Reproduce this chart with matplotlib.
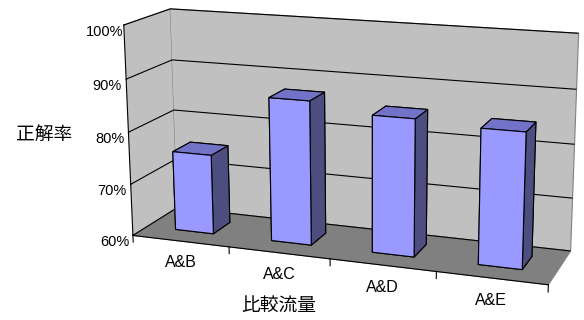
import matplotlib
matplotlib.use('Agg')
import matplotlib.pyplot as plt
import numpy as np
from matplotlib.ticker import FuncFormatter

categories = ['A&B', 'A&C', 'A&D', 'A&E']
accuracy = [0.753, 0.872, 0.855, 0.848]
value_ticks = [0.6, 0.7, 0.8, 0.9, 1.0]
x_title = '比較流量'
y_title = '正解率'

plt.rcParams['font.family'] = ['Liberation Sans', 'Noto Sans CJK JP']
plt.rcParams['font.size'] = 10.5
W, H = 584, 320
n = len(categories)

fig = plt.figure(figsize=(W / 100, H / 100), dpi=100)
# square 3D axes placed so that the floor/walls box lands like the reference
l_px, b_px, s_px = 97.8, -67.76, 486.10
ax = fig.add_axes([l_px / W, b_px / H, s_px / W, s_px / H], projection='3d')
ax.view_init(elev=14.656, azim=-69.844, roll=0.234)
ax.set_proj_type('persp', focal_length=0.5524)
ax.set_box_aspect((4, 0.9352, 2.0219))

zmin = value_ticks[0]
bw = 0.4
xc = np.arange(1, n + 1)
# face order per bar: bottom, top, front, back, left, right
face = ['#9999FF', '#7272C8', '#9999FF', '#9999FF', '#9999FF', '#4D4D80']
bars = ax.bar3d(xc - bw / 2, np.full(n, 0.32), np.full(n, zmin), bw, 0.4,
                np.array(accuracy) - zmin, color=face * n, edgecolor='black',
                linewidth=0.8, shade=False)
bars.set_clip_on(False)

ax.set_xlim(0.5, n + 0.5)
ax.set_ylim(0, 1)
ax.set_zlim(value_ticks[0], value_ticks[-1])

ax.set_zticks(value_ticks)
ax.zaxis.set_major_formatter(FuncFormatter(lambda v, p_: f'{v*100:.0f}%'))
ax.zaxis.set_ticks_position('lower')
ax.zaxis.set_label_position('lower')
ax.yaxis.set_ticks_position('lower')
ax.yaxis.set_label_position('lower')
ax.zaxis.set_tick_params(pad=0, labelsize=10.5)
ax.zaxis._axinfo['tick']['inward_factor'] = 0.0
ax.zaxis._axinfo['tick']['outward_factor'] = 0.12
ax.set_xticks([])
ax.set_yticks([])

for a in (ax.xaxis, ax.yaxis):
    a._axinfo['grid']['color'] = (0, 0, 0, 0)
ax.zaxis._axinfo['grid']['color'] = 'black'
ax.zaxis._axinfo['grid']['linewidth'] = 0.8
ax.xaxis.set_pane_color('#C0C0C0')
ax.yaxis.set_pane_color('#C0C0C0')
ax.zaxis.set_pane_color('#808080')
for a in (ax.xaxis, ax.yaxis, ax.zaxis):
    a.pane.set_edgecolor('#808080')
    a.pane.set_linewidth(0.8)
    a.label.set_visible(False)
    a.offsetText.set_visible(False)
ax.yaxis.line.set_color((0, 0, 0, 0))
ax.xaxis.line.set_color('black')
ax.zaxis.line.set_color('black')

# category boundary tick marks on the front floor edge
for bnd in np.arange(0.5, n + 1):
    ln, = ax.plot([bnd, bnd], [0, 0], [zmin, zmin - 0.013], color='black', linewidth=0.8)
    ln.set_clip_on(False)

for i, cat in zip(xc, categories):
    ax.text(i, 0, zmin - 0.028, cat, ha='center', va='top', fontsize=11.5)

fig.text(44 / W, 1 - 135 / H, y_title, ha='center', va='center', fontsize=13.5)
fig.text(279 / W, 1 - 307 / H, x_title, ha='center', va='center', fontsize=13.5)

fig.savefig('out.png', dpi=100)
